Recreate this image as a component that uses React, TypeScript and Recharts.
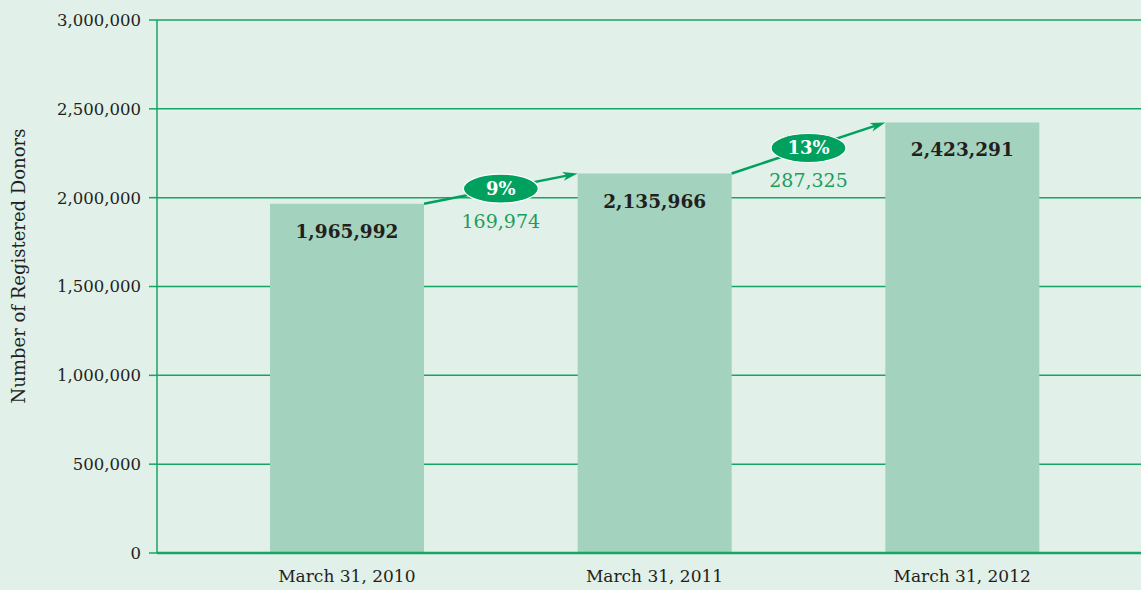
import { Bar, BarChart, CartesianGrid, LabelList, XAxis, YAxis } from "recharts";

const dates = ["March 31, 2010", "March 31, 2011", "March 31, 2012"];
const donors = [1965992, 2135966, 2423291];
const growthPct = ["9%", "13%"];
const growthAbs = ["169,974", "287,325"];
const yTicks = [0, 500000, 1000000, 1500000, 2000000, 2500000, 3000000];

const data = dates.map((d, i) => ({ date: d, donors: donors[i] }));

const FONT = "'DejaVu Serif', serif";
const BG = "#e1f0e8";
const LINE = "#17a564";
const DARK_GREEN = "#00a05e";
const TEXT = "#231f20";

const W = 1141;
const H = 590;
const Y_AXIS_W = 157;
const PAD_L = 36;
const PAD_R = 25;
// width of one category band
const STEP = (W - Y_AXIS_W - PAD_L - PAD_R) / dates.length;

function Annotation(props: any) {
  const vb = props.viewBox || {};
  const x = Number(props.x ?? vb.x);
  const y = Number(props.y ?? vb.y);
  const width = Number(props.width ?? vb.width);
  const height = Number(props.height ?? vb.height);
  const i = Number(props.index);
  const cx = x + width / 2;

  const label = (
    <text
      x={cx}
      y={y + 29}
      textAnchor="middle"
      dominantBaseline="middle"
      fontFamily={FONT}
      fontWeight="bold"
      fontSize={18.5}
      fill={TEXT}
    >
      {donors[i].toLocaleString("en-US")}
    </text>
  );

  if (i >= donors.length - 1) return <g>{label}</g>;

  // arrow from this bar's top-right corner to the next bar's top-left corner
  const x1 = x + width;
  const y1 = y;
  const x2 = x + STEP;
  const y2 = y + height - (height * donors[i + 1]) / donors[i];
  const ang = Math.atan2(y2 - y1, x2 - x1);
  const len = 15;
  const half = 4.5;
  const bx = x2 - len * Math.cos(ang);
  const by = y2 - len * Math.sin(ang);
  const px = -Math.sin(ang) * half;
  const py = Math.cos(ang) * half;
  const nx = bx + 4 * Math.cos(ang);
  const ny = by + 4 * Math.sin(ang);
  const mx = (x1 + x2) / 2;
  const my = (y1 + y2) / 2;

  return (
    <g>
      {label}
      <line x1={x1} y1={y1} x2={nx} y2={ny} stroke={DARK_GREEN} strokeWidth={2.5} />
      <polygon points={`${x2},${y2} ${bx + px},${by + py} ${nx},${ny} ${bx - px},${by - py}`} fill={DARK_GREEN} />
      <ellipse cx={mx} cy={my} rx={37.5} ry={14.5} fill={DARK_GREEN} stroke="#ffffff" strokeWidth={1.2} />
      <text
        x={mx}
        y={my + 1}
        textAnchor="middle"
        dominantBaseline="middle"
        fontFamily={FONT}
        fontWeight="bold"
        fontSize={18}
        fill="#ffffff"
      >
        {growthPct[i]}
      </text>
      <text
        x={mx}
        y={my + 34}
        textAnchor="middle"
        dominantBaseline="middle"
        fontFamily={FONT}
        fontSize={19}
        fill="#1c9d5d"
      >
        {growthAbs[i]}
      </text>
    </g>
  );
}

function YLabel() {
  return (
    <text
      x={20}
      y={266}
      transform="rotate(-90 20 266)"
      textAnchor="middle"
      dominantBaseline="middle"
      fontFamily={FONT}
      fontSize={18}
      fill={TEXT}
    >
      Number of Registered Donors
    </text>
  );
}

export default function App() {
  return (
    <div style={{ width: W, height: H, background: BG, position: "absolute", left: 0, top: 0 }}>
      <style>{"body{margin:0;background:" + BG + "}"}</style>
      <BarChart width={W} height={H} data={data} margin={{ top: 20, right: 0, bottom: 0, left: 0 }}>
        <CartesianGrid vertical={false} stroke={LINE} strokeWidth={1.5} />
        <XAxis
          dataKey="date"
          height={37}
          padding={{ left: PAD_L, right: PAD_R }}
          axisLine={{ stroke: LINE, strokeWidth: 2.5 }}
          tickLine={false}
          tickSize={0}
          tickMargin={17}
          tick={{ fill: TEXT, fontSize: 17, fontFamily: FONT }}
        />
        <YAxis
          width={Y_AXIS_W}
          domain={[0, 3000000]}
          ticks={yTicks}
          interval={0}
          tickFormatter={(v: number) => v.toLocaleString("en-US")}
          axisLine={{ stroke: LINE, strokeWidth: 1.5 }}
          tickLine={{ stroke: LINE, strokeWidth: 1.5 }}
          tickSize={8}
          tickMargin={8}
          tick={{ fill: TEXT, fontSize: 16.5, fontFamily: FONT }}
          label={<YLabel />}
        />
        <Bar dataKey="donors" fill="#a3d2be" barSize={154} isAnimationActive={false}>
          <LabelList dataKey="donors" content={<Annotation />} />
        </Bar>
      </BarChart>
    </div>
  );
}
